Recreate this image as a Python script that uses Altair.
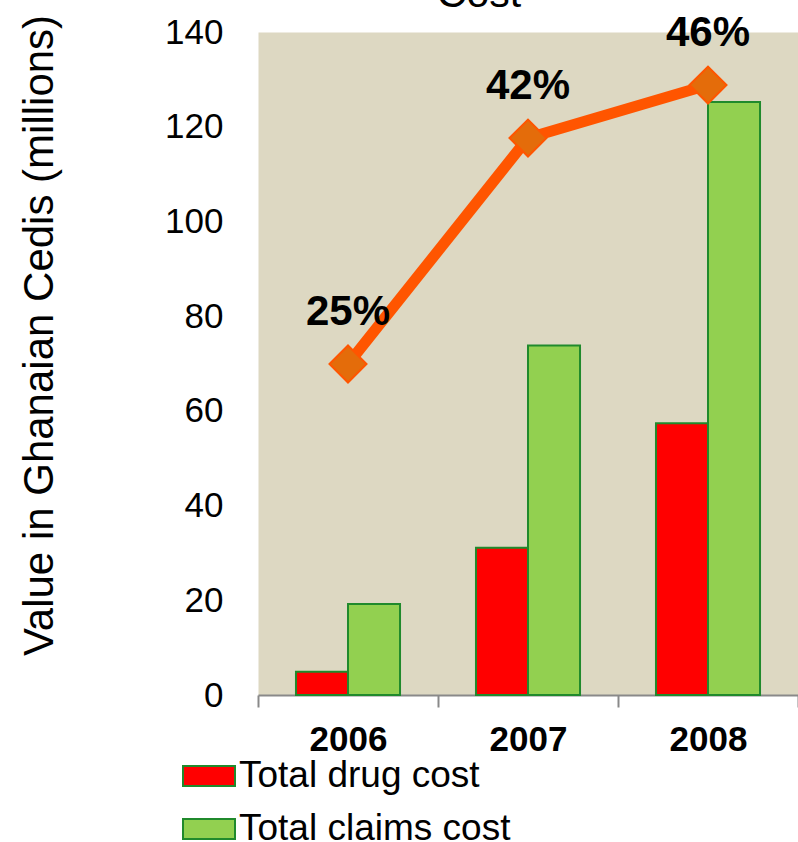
import altair as alt
import pandas as pd

# Values in millions of Ghanaian Cedis
years = ["2006", "2007", "2008"]
drug_cost = [4.9, 31.1, 57.4]
claims_cost = [19.2, 73.8, 125.2]
share_line = [69.9, 117.6, 128.8]
share_labels = ["25%", "42%", "46%"]
series_names = ["Total drug cost", "Total claims cost"]
series_colors = ["#FF0000", "#92D050"]
title_text = ["Cost"]

FONT = "Liberation Sans"

bars_df = pd.DataFrame({
    "year": years * 2,
    "series": [series_names[0]] * 3 + [series_names[1]] * 3,
    "value": drug_cost + claims_cost,
})
line_df = pd.DataFrame({"year": years, "value": share_line, "label": share_labels})
title_df = pd.DataFrame({"text": title_text})

x_enc = alt.X(
    "year:N",
    scale=alt.Scale(paddingInner=0, paddingOuter=0),
    axis=alt.Axis(
        title=None, labelAngle=0, labelFontSize=35, labelFontWeight="bold",
        labelColor="black", labelPadding=15, tickBand="extent", tickSize=12,
        tickWidth=2, tickColor="#898989", domainColor="#898989", domainWidth=2,
        grid=False,
    ),
)
y_scale = alt.Scale(domain=[0, 140], nice=False)
y_axis = alt.Axis(
    title="Value in Ghanaian Cedis (millions)", values=list(range(0, 141, 20)),
    domain=False, ticks=False, grid=False, labelFontSize=35, labelPadding=35,
    labelColor="black", titleFontSize=42, titleFontWeight="normal",
    titleColor="black", titleX=-206, titleY=303, titleBaseline="alphabetic",
    titleAngle=270,
)

bars = alt.Chart(bars_df).mark_bar(stroke="#208a2c", strokeWidth=2).encode(
    x=x_enc,
    xOffset=alt.XOffset(
        "series:N",
        scale=alt.Scale(domain=series_names, paddingInner=0, paddingOuter=0.73),
    ),
    y=alt.Y("value:Q", scale=y_scale, axis=y_axis),
    color=alt.Color(
        "series:N",
        scale=alt.Scale(domain=series_names, range=series_colors),
        legend=alt.Legend(
            title=None, orient="none", legendX=-76, legendY=717, padding=0,
            symbolType="M-1,-0.385H1V0.385H-1Z", symbolSize=2704,
            symbolStrokeColor="#208a2c", symbolStrokeWidth=2, symbolOpacity=1,
            labelFontSize=37, labelColor="black", labelOffset=3, rowPadding=8,
            labelLimit=0,
        ),
    ),
)

line = alt.Chart(line_df).mark_line(color="#FF5500", strokeWidth=11).encode(
    x="year:N", y=alt.Y("value:Q", scale=y_scale)
)

points = alt.Chart(line_df).mark_point(
    shape="diamond", filled=True, fill="#E46C0A", stroke="#FF5500",
    strokeWidth=2, size=1369, opacity=1,
).encode(x="year:N", y=alt.Y("value:Q", scale=y_scale))

labels = alt.Chart(line_df).mark_text(
    dy=-39, baseline="alphabetic", align="center", fontSize=42,
    fontWeight="bold", color="black",
).encode(x="year:N", y=alt.Y("value:Q", scale=y_scale), text="label:N")

title = alt.Chart(title_df).mark_text(
    baseline="alphabetic", align="center", fontSize=41, color="black"
).encode(x=alt.value(221), y=alt.value(-25), text="text:N")

chart = (
    alt.layer(bars, line, points, labels, title)
    .properties(
        width=540, height=663,
        autosize=alt.AutoSizeParams(type="none"),
        padding={"left": 258, "top": 32, "right": 0, "bottom": 147},
        background="white",
    )
    .configure(font=FONT)
    .configure_view(fill="#DDD8C2", stroke="transparent")
)

chart.save("out.html", embed_options={"renderer": "svg", "actions": False})
